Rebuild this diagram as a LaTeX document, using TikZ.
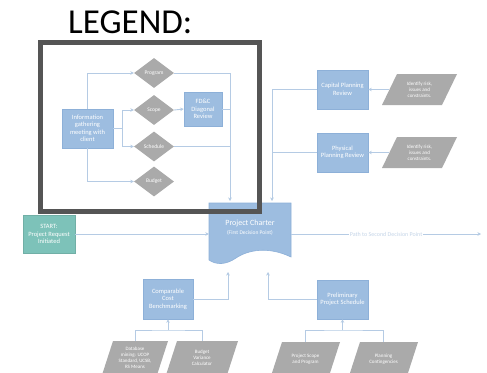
\documentclass[tikz,border=0pt]{standalone}
\usepackage{fontspec}
\setmainfont{Carlito}
\usetikzlibrary{shapes.geometric,arrows.meta}

\definecolor{boxblue}{HTML}{9DBDE0}
\definecolor{boxedge}{HTML}{8DB0D8}
\definecolor{diagray}{HTML}{AAAAAA}
\definecolor{startteal}{HTML}{7DC2B9}
\definecolor{linec}{HTML}{B5CBE4}
\definecolor{framegray}{HTML}{555555}
\definecolor{pathtext}{HTML}{C5D5E8}

\tikzset{
  blockbox/.style={draw=boxedge, line width=0.6pt, fill=boxblue, text=white,
    align=center, inner sep=1pt, font=\fontsize{6.5}{7.5}\selectfont},
  decision/.style={diamond, fill=diagray, text=white, inner sep=0pt,
    minimum width=40pt, minimum height=30pt, font=\fontsize{5.5}{6}\selectfont},
  conn/.style={draw=linec, line width=0.9pt},
  arr/.style={-{Stealth[length=3.5pt,width=3.5pt]}},
  paratext/.style={text=white, align=center, inner sep=0pt,
    font=\fontsize{5}{6}\selectfont}
}

% slanted input box: name, centre x, centre y, edge width, height, slant, text
\newcommand\slantbox[7]{%
  \fill[diagray] ({#2-#4/2+#6/2},{#3-#5/2}) -- ({#2+#4/2+#6/2},{#3-#5/2})
    -- ({#2+#4/2-#6/2},{#3+#5/2}) -- ({#2-#4/2-#6/2},{#3+#5/2}) -- cycle;
  \node[paratext, minimum width=#4pt, minimum height=#5pt] (#1) at (#2,#3) {#7};
}

\begin{document}
\begin{tikzpicture}[x=1pt, y=-1pt]
\useasboundingbox (0,0) rectangle (487,372);
\clip (0,0) rectangle (487,372);
\fill[white] (0,0) rectangle (487,372);

% ---- legend block: information gathering ----
\node[blockbox, minimum width=51pt, minimum height=39pt] (info) at (87.5,128.5)
  {Information\\gathering\\meeting with\\client};
\node[decision] (prog)   at (154,73)    {Program};
\node[decision] (scope)  at (154,110)   {Scope};
\node[decision] (sched)  at (154,146.5) {Schedule};
\node[decision] (budget) at (154,181.5) {Budget};
\node[blockbox, minimum width=38pt, minimum height=34pt] (fdc) at (203,109)
  {FD\&C\\Diagonal\\Review};

\coordinate (jL) at (122,128.5);
\coordinate (cTopA) at (230,201);
\coordinate (cTopB) at (272,201);

\draw[conn,arr] (info.north) |- (prog.west);
\draw[conn,arr] (info.south) |- (budget.west);
\draw[conn] (info.east) -- (jL);
\draw[conn,arr] (jL) |- (scope.west);
\draw[conn,arr] (jL) |- (sched.west);
\draw[conn,arr] (scope.east) -- (fdc.west);
\draw[conn,arr] (prog.east) -| (cTopA);
\draw[conn] (fdc.east) -- (fdc.east -| cTopA);
\draw[conn] (sched.east) -- (sched.east -| cTopA);

% ---- planning reviews ----
\node[blockbox, minimum width=51pt, minimum height=39pt] (cap) at (342.5,89.5)
  {Capital Planning\\Review};
\node[blockbox, minimum width=51pt, minimum height=39pt] (phy) at (342.5,152.5)
  {Physical\\Planning Review};
\slantbox{risk1}{419.5}{89.5}{60}{31}{15}{Identify risk,\\issues and\\constraints.}
\slantbox{risk2}{419.5}{152.5}{60}{31}{15}{Identify risk,\\issues and\\constraints.}
\draw[conn,arr] (risk1.west) -- (cap.east);
\draw[conn,arr] (risk2.west) -- (phy.east);
\draw[conn,arr] (cap.west) -| (cTopB);
\draw[conn] (phy.west) -- (phy.west -| cTopB);

% ---- start and project charter ----
\node[blockbox, draw=startteal!90!black, fill=startteal, minimum width=52pt,
  minimum height=38pt] (start) at (49,234) {START:\\Project Request\\Initiated};

\fill[boxblue] (209,203) -- (291,203) -- (291,257)
  .. controls (268,246) and (248,250) .. (236,258)
  .. controls (226,265) and (216,265) .. (209,260) -- cycle;
\draw[boxedge, line width=0.6pt] (209,203) -- (291,203) -- (291,257)
  .. controls (268,246) and (248,250) .. (236,258)
  .. controls (226,265) and (216,265) .. (209,260) -- cycle;
\node[minimum width=82pt, minimum height=50pt, inner sep=0pt] (charter) at (250,234) {};
\node[text=white, inner sep=0pt, font=\fontsize{8}{9}\selectfont] (chartertitle)
  at (250,223) {Project Charter};
\node[text=white, inner sep=0pt, font=\fontsize{5.5}{6}\selectfont] (chartersub)
  at (250,233) {(First Decision Point)};

\coordinate (pathend) at (481,234);
\draw[conn,arr] (start.east) -- (charter.west);
\draw[conn,arr] (charter.east) -- (pathend)
  node[pos=0.5, fill=white, inner xsep=1pt, inner ysep=0.5pt, text=pathtext,
       font=\fontsize{6}{6.5}\selectfont] (pathlbl) {Path to Second Decision Point};

% ---- cost benchmarking ----
\node[blockbox, minimum width=50pt, minimum height=40pt] (cmp) at (168,299)
  {Comparable\\Cost\\Benchmarking};
\slantbox{dbm}{135}{358}{55}{34}{11}{Database\\mining: UCOP\\Standard, UCSB,\\RS Means}
\slantbox{bvc}{202}{358}{61}{34}{11}{Budget\\Variance\\Calculator}
\coordinate (jA) at (168,330);
\draw[conn] (dbm.north) |- (jA) -| (bvc.north);
\draw[conn,arr] (jA) -- (cmp.south);
\coordinate (cBotA) at (228,272);
\draw[conn,arr] (cmp.east) -| (cBotA);

% ---- preliminary schedule ----
\node[blockbox, minimum width=51pt, minimum height=39pt] (prel) at (342.5,299.5)
  {Preliminary\\Project Schedule};
\slantbox{psp}{305.5}{359}{58}{34}{11}{Project Scope\\and Program}
\slantbox{plc}{383.5}{359}{58}{34}{11}{Planning\\Contingencies}
\coordinate (jB) at (342.5,330);
\draw[conn] (psp.north) |- (jB) -| (plc.north);
\draw[conn,arr] (jB) -- (prel.south);
\coordinate (cBotB) at (268,272);
\draw[conn,arr] (prel.west) -| (cBotB);

% ---- legend frame and title ----
\draw[framegray, line width=5pt] (40.5,42.5) rectangle (259.5,211);
\node[anchor=base west, inner sep=0pt, font=\fontsize{35}{37}\selectfont] (legend)
  at (68,33) {LEGEND:};
\end{tikzpicture}
\end{document}
